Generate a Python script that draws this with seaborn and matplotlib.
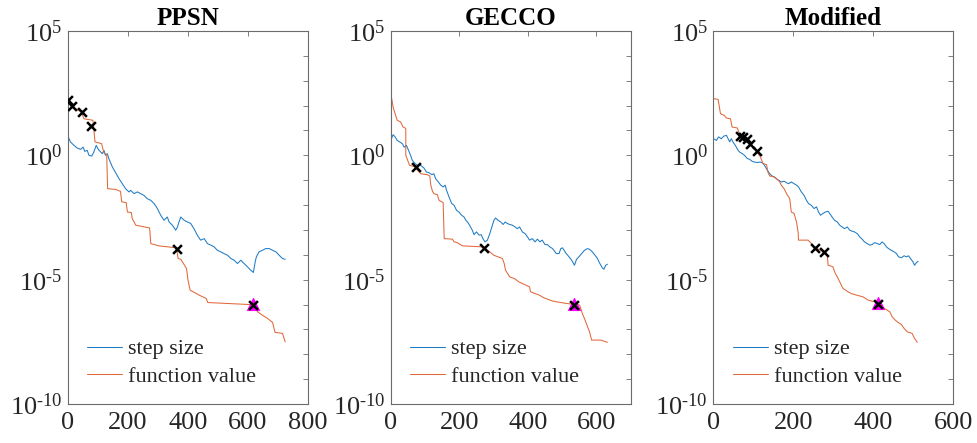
import numpy as np
import matplotlib
matplotlib.use("Agg")
import matplotlib.pyplot as plt
import seaborn as sns
from matplotlib.ticker import FixedLocator, FuncFormatter

# ---- data (iterations, log10 of the value) ----
# PPSN
ppsn_sigma_iter = [2, 9, 21, 32, 43, 51, 57, 65, 71, 80, 87, 95, 102, 110, 115, 121, 126, 132, 137, 149,
                   160, 171, 182, 193, 204, 210, 221, 232, 243, 254, 265, 277, 288, 299, 310, 321, 332, 338, 349, 360,
                   366, 371, 377, 388, 399, 410, 421, 432, 443, 455, 466, 477, 488, 499, 510, 521, 533, 544, 555, 566,
                   577, 588, 599, 610, 619, 625, 629, 638, 649, 660, 672, 683, 694, 705, 716, 725]
ppsn_sigma_exp = [0.74, 0.54, 0.40, 0.29, 0.24, 0.33, 0.16, 0.20, 0.0, -0.03, 0.13, 0.40, 0.24, 0.13, 0.07, 0.20, 0.0, 0.07, -0.13, -0.47,
                  -0.70, -0.94, -1.14, -1.34, -1.47, -1.41, -1.54, -1.47, -1.54, -1.61, -1.74, -1.81, -1.94, -2.14, -2.41, -2.61, -2.48, -2.68, -2.81, -3.01,
                  -2.88, -2.68, -2.48, -2.61, -2.68, -2.74, -2.95, -3.21, -3.41, -3.35, -3.55, -3.61, -3.68, -3.82, -3.88, -3.95, -4.02, -4.15, -4.22, -4.35,
                  -4.22, -4.35, -4.48, -4.62, -4.71, -4.28, -4.08, -3.88, -3.82, -3.75, -3.75, -3.82, -3.88, -4.02, -4.15, -4.18]
ppsn_f_iter = [0, 2, 13, 26, 46, 48, 54, 84, 87, 91, 113, 117, 122, 130, 133, 160, 176, 180, 195, 199,
               212, 215, 227, 273, 277, 304, 363, 368, 377, 396, 401, 408, 438, 462, 467, 605, 622, 633, 649, 663,
               683, 691, 716, 725]
ppsn_f_exp = [2.44, 2.21, 1.97, 1.87, 1.74, 1.67, 1.47, 1.41, 1.07, 0.54, 0.47, 0.27, 0.07, 0.03, -1.34, -1.37, -1.45, -1.87, -1.90, -2.28,
              -2.30, -2.54, -2.81, -2.92, -3.55, -3.64, -3.72, -4.15, -4.18, -4.55, -5.02, -5.42, -5.62, -5.76, -5.92, -6.00, -6.05, -6.29, -6.43, -6.53,
              -6.72, -7.12, -7.16, -7.50]
ppsn_cross_iter = [2, 13, 46, 77, 363, 616]
ppsn_cross_exp = [2.21, 1.97, 1.74, 1.18, -3.75, -6.00]
ppsn_tri_iter = [616]
ppsn_tri_exp = [-5.96]

# GECCO
gecco_sigma_iter = [0, 7, 13, 19, 26, 34, 39, 46, 52, 58, 63, 71, 78, 83, 90, 97, 104, 112, 120, 126,
                    131, 139, 146, 153, 159, 163, 170, 178, 185, 192, 199, 207, 214, 219, 224, 230, 238, 243, 250, 258,
                    264, 269, 275, 282, 289, 295, 301, 306, 313, 321, 328, 334, 340, 347, 355, 363, 369, 376, 384, 392,
                    399, 405, 413, 421, 428, 435, 442, 450, 457, 464, 472, 476, 483, 491, 496, 501, 506, 512, 520, 528,
                    536, 542, 549, 557, 565, 574, 580, 588, 596, 603, 610, 617, 622, 627, 632]
gecco_sigma_exp = [0.60, 0.83, 0.74, 0.60, 0.54, 0.47, 0.33, 0.40, 0.20, 0.0, -0.20, -0.33, -0.40, -0.37, -0.43, -0.51, -0.67, -0.70, -0.78, -0.74,
                   -0.94, -1.07, -1.20, -1.27, -1.20, -1.41, -1.67, -1.94, -2.01, -2.21, -2.28, -2.41, -2.48, -2.61, -2.68, -2.81, -3.01, -3.19, -3.08, -3.21,
                   -3.19, -3.35, -3.48, -3.41, -3.15, -2.88, -2.61, -2.52, -2.61, -2.68, -2.78, -2.68, -2.74, -2.78, -2.81, -2.88, -2.95, -2.88, -3.08, -3.15,
                   -3.28, -3.41, -3.35, -3.48, -3.37, -3.48, -3.41, -3.59, -3.59, -3.68, -3.75, -3.82, -3.95, -3.95, -3.75, -3.72, -3.82, -3.95, -4.08, -4.22,
                   -4.42, -4.18, -4.08, -3.95, -3.82, -3.75, -3.78, -3.88, -4.02, -4.15, -4.35, -4.52, -4.58, -4.42, -4.38]
gecco_f_iter = [0, 3, 7, 15, 19, 29, 36, 42, 44, 44, 55, 73, 78, 88, 107, 114, 117, 122, 126, 136,
                141, 149, 153, 156, 180, 185, 194, 209, 267, 272, 287, 301, 326, 331, 335, 347, 360, 374, 394, 405,
                408, 433, 447, 472, 496, 515, 536, 551, 559, 567, 574, 580, 586, 613, 632]
gecco_f_exp = [2.34, 2.28, 1.94, 1.58, 1.41, 1.34, 1.14, 1.10, 1.07, 0.0, -0.40, -0.47, -0.60, -0.74, -0.78, -0.83, -1.20, -1.45, -1.54, -1.58,
               -1.81, -1.87, -1.90, -3.35, -3.37, -3.48, -3.51, -3.64, -3.68, -3.72, -3.86, -4.02, -4.15, -4.35, -4.62, -4.89, -4.95, -5.09, -5.22, -5.29,
               -5.49, -5.62, -5.73, -5.86, -5.92, -5.96, -6.00, -6.02, -6.36, -6.63, -6.89, -7.10, -7.43, -7.43, -7.52]
gecco_cross_iter = [73, 272, 536]
gecco_cross_exp = [-0.47, -3.72, -6.00]
gecco_tri_iter = [536]
gecco_tri_exp = [-5.96]

# Modified
mod_sigma_iter = [0, 8, 13, 20, 27, 33, 37, 41, 45, 49, 55, 62, 66, 72, 78, 85, 91, 97, 103, 110,
                  116, 122, 128, 135, 141, 147, 152, 158, 163, 170, 177, 183, 188, 195, 202, 208, 213, 220, 227, 233,
                  238, 245, 252, 258, 263, 268, 274, 280, 287, 291, 297, 303, 310, 316, 322, 328, 335, 341, 347, 353,
                  360, 366, 372, 378, 385, 391, 397, 403, 410, 416, 422, 427, 433, 438, 445, 452, 458, 463, 470, 477,
                  483, 488, 493, 499, 503, 508, 512]
mod_sigma_exp = [0.67, 0.60, 0.74, 0.67, 0.78, 0.80, 0.67, 0.54, 0.67, 0.54, 0.40, 0.20, 0.13, 0.07, 0.0, -0.13, -0.16, -0.24, -0.27, -0.29,
                 -0.27, -0.29, -0.40, -0.60, -0.74, -0.83, -0.87, -0.94, -1.00, -1.07, -1.04, -1.10, -1.14, -1.07, -1.14, -1.20, -1.27, -1.47, -1.61, -1.81,
                 -1.94, -2.01, -2.14, -2.07, -2.28, -2.41, -2.34, -2.28, -2.25, -2.34, -2.48, -2.61, -2.68, -2.81, -2.88, -2.95, -2.88, -3.01, -3.05, -3.08,
                 -3.15, -3.28, -3.37, -3.48, -3.55, -3.61, -3.59, -3.51, -3.55, -3.59, -3.48, -3.55, -3.68, -3.75, -3.82, -3.88, -3.95, -4.08, -4.12, -4.04,
                 -4.08, -4.04, -4.15, -4.28, -4.42, -4.31, -4.26]
mod_f_iter = [0, 12, 18, 27, 33, 43, 47, 60, 66, 78, 91, 103, 112, 118, 124, 133, 137, 141, 153, 162,
              166, 170, 177, 183, 191, 195, 202, 208, 212, 213, 237, 249, 255, 277, 285, 287, 299, 305, 310, 318,
              324, 337, 345, 358, 374, 387, 403, 412, 422, 428, 441, 447, 455, 462, 470, 477, 485, 497, 503, 510]
mod_f_exp = [2.28, 2.25, 1.67, 1.61, 1.50, 1.47, 1.14, 1.10, 0.83, 0.67, 0.47, 0.27, 0.07, -0.07, -0.33, -0.37, -0.70, -0.83, -0.87, -1.00,
             -1.07, -1.20, -1.34, -1.54, -1.74, -2.28, -2.34, -2.68, -3.08, -3.41, -3.41, -3.61, -3.72, -3.88, -4.02, -4.42, -4.48, -4.75, -4.89, -5.15,
             -5.35, -5.49, -5.56, -5.62, -5.69, -5.82, -5.89, -5.96, -6.09, -6.16, -6.29, -6.49, -6.63, -6.72, -6.80, -6.96, -7.10, -7.16, -7.36, -7.52]
mod_cross_iter = [66, 74, 83, 91, 110, 255, 277, 412]
mod_cross_exp = [0.78, 0.74, 0.64, 0.47, 0.16, -3.71, -3.88, -5.96]
mod_tri_iter = [412]
mod_tri_exp = [-5.93]

titles = ["PPSN", "GECCO", "Modified"]
xlims = [800, 700, 600]
legend_labels = ["step size", "function value"]

panels = [
    (ppsn_sigma_iter, ppsn_sigma_exp, ppsn_f_iter, ppsn_f_exp, ppsn_cross_iter, ppsn_cross_exp, ppsn_tri_iter, ppsn_tri_exp),
    (gecco_sigma_iter, gecco_sigma_exp, gecco_f_iter, gecco_f_exp, gecco_cross_iter, gecco_cross_exp, gecco_tri_iter, gecco_tri_exp),
    (mod_sigma_iter, mod_sigma_exp, mod_f_iter, mod_f_exp, mod_cross_iter, mod_cross_exp, mod_tri_iter, mod_tri_exp),
]

sns.set_style("white")
plt.rcParams["font.family"] = ["Liberation Serif", "DejaVu Serif"]
plt.rcParams["mathtext.fontset"] = "custom"
plt.rcParams["mathtext.rm"] = "Liberation Serif"
plt.rcParams["mathtext.it"] = "Liberation Serif:italic"
plt.rcParams["mathtext.bf"] = "Liberation Serif:bold"

BLUE = "#1f7bc4"
ORANGE = "#e0683a"
AX_COL = "#6b6b6b"
TXT_COL = "#262626"


def decade_label(v, pos):
    k = int(round(np.log10(v)))
    if k % 5:
        return ""
    exp = str(k).replace("-", "\u2010")
    return r"$10^{%s}$" % exp


fig = plt.figure(figsize=(9.77, 4.43), dpi=100)
lefts = [67.7, 390.7, 713.3]
W, H = 977.0, 443.0

for i, (si, se, fi, fe, ci, ce, ti, te) in enumerate(panels):
    ax = fig.add_axes([lefts[i] / W, 1 - 404 / H, 240 / W, 373 / H])
    sns.lineplot(x=si, y=np.power(10.0, se), ax=ax, color=BLUE, linewidth=0.75,
                 label=legend_labels[0], estimator=None, sort=False)
    sns.lineplot(x=fi, y=np.power(10.0, fe), ax=ax, color=ORANGE, linewidth=0.75,
                 label=legend_labels[1], estimator=None, sort=False)
    sns.scatterplot(x=ti, y=np.power(10.0, te), ax=ax, marker="^", color="magenta",
                    s=75, edgecolor="magenta", linewidth=0.8, zorder=4, legend=False)
    sns.scatterplot(x=ci, y=np.power(10.0, ce), ax=ax, marker="x", color="black",
                    s=40, linewidth=1.8, zorder=5, legend=False)

    ax.set_yscale("log")
    ax.set_ylim(1e-10, 1e5)
    ax.set_xlim(0, xlims[i])
    ax.xaxis.set_major_locator(FixedLocator(list(range(0, xlims[i] + 1, 200))))
    ax.yaxis.set_major_locator(FixedLocator([10.0 ** k for k in range(-10, 6)]))
    ax.yaxis.set_minor_locator(FixedLocator([]))
    ax.yaxis.set_major_formatter(FuncFormatter(decade_label))
    ax.tick_params(which="both", direction="in", top=True, right=True, length=3.5,
                   width=0.6, color=AX_COL, labelcolor=TXT_COL, labelsize=19)
    ax.tick_params(axis="x", pad=6)
    ax.tick_params(axis="y", pad=4)
    for sp in ax.spines.values():
        sp.set_color(AX_COL)
        sp.set_linewidth(0.8)
    ax.set_xlabel("")
    ax.set_ylabel("")
    ax.set_title(titles[i], fontsize=18, fontweight="bold", color="black", pad=4)
    ax.legend(loc="lower left", bbox_to_anchor=(0.08, 0.045), frameon=False, fontsize=16,
              handlelength=1.6, handletextpad=0.25, labelspacing=0.33, borderpad=0,
              borderaxespad=0, labelcolor=TXT_COL)

fig.savefig("out.png", dpi=100)
